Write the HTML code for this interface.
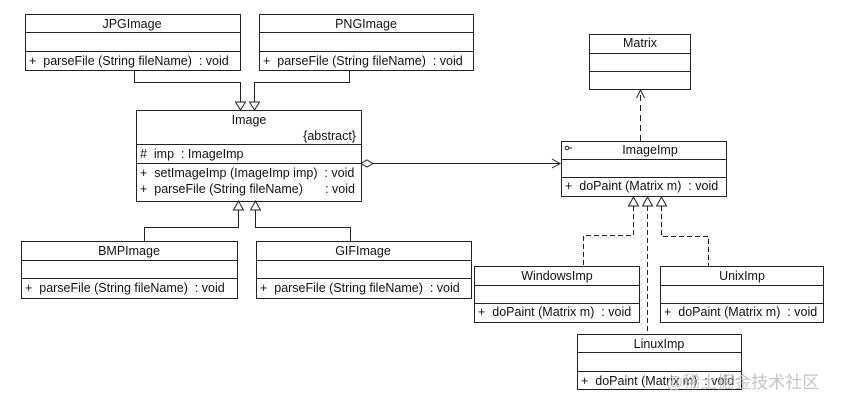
<!DOCTYPE html>
<html><head><meta charset="utf-8"><style>
html,body{margin:0;padding:0;background:#fff;}
svg{display:block;}
text{font-family:"Liberation Sans",Arial,sans-serif;font-size:12.5px;fill:#111;white-space:pre;}
</style></head><body>
<svg width="841" height="406" viewBox="0 0 841 406" xmlns="http://www.w3.org/2000/svg" xml:space="preserve">
<g fill="none" stroke="#222" stroke-width="1">
<rect x="25.5" y="14.5" width="215" height="56"/><line x1="25" y1="32.5" x2="240" y2="32.5"/><line x1="25" y1="51.5" x2="240" y2="51.5"/>
<rect x="259.5" y="14.5" width="214" height="56"/><line x1="259" y1="32.5" x2="473" y2="32.5"/><line x1="259" y1="51.5" x2="473" y2="51.5"/>
<rect x="136.5" y="110.5" width="225" height="91"/><line x1="136" y1="144.5" x2="361" y2="144.5"/><line x1="136" y1="163.5" x2="361" y2="163.5"/>
<rect x="21.5" y="241.5" width="216" height="57"/><line x1="21" y1="260.5" x2="237" y2="260.5"/><line x1="21" y1="278.5" x2="237" y2="278.5"/>
<rect x="256.5" y="241.5" width="215" height="57"/><line x1="256" y1="260.5" x2="471" y2="260.5"/><line x1="256" y1="278.5" x2="471" y2="278.5"/>
<rect x="589.5" y="34.5" width="101" height="55"/><line x1="589" y1="53.5" x2="690" y2="53.5"/><line x1="589" y1="71.5" x2="690" y2="71.5"/>
<rect x="561.5" y="141.5" width="165" height="55"/><line x1="561" y1="159.5" x2="726" y2="159.5"/><line x1="561" y1="177.5" x2="726" y2="177.5"/>
<rect x="474.5" y="266.5" width="165" height="56"/><line x1="474" y1="285.5" x2="639" y2="285.5"/><line x1="474" y1="303.5" x2="639" y2="303.5"/>
<rect x="660.5" y="266.5" width="163" height="56"/><line x1="660" y1="285.5" x2="823" y2="285.5"/><line x1="660" y1="303.5" x2="823" y2="303.5"/>
<rect x="577.5" y="334.5" width="164" height="55"/><line x1="577" y1="352.5" x2="741" y2="352.5"/><line x1="577" y1="371.5" x2="741" y2="371.5"/>
<polyline points="134.5,70 134.5,82.5 240.5,82.5 240.5,102"/>
<polygon points="235.5,102 245.5,102 240.5,110"/>
<polyline points="349.5,70 349.5,82.5 254.5,82.5 254.5,102"/>
<polygon points="249.5,102 259.5,102 254.5,110"/>
<polygon points="238.5,201 233.5,210 243.5,210"/>
<polyline points="238.5,210 238.5,227.5 144.5,227.5 144.5,241"/>
<polygon points="255.5,201 250.5,210 260.5,210"/>
<polyline points="255.5,210 255.5,227.5 350.5,227.5 350.5,241"/>
<polygon points="361,163.5 367,160 373,163.5 367,167"/>
<line x1="373" y1="163.5" x2="560" y2="163.5"/>
<polyline points="552,159 560,163.5 552,168"/>
<line x1="640.5" y1="141" x2="640.5" y2="90" stroke-dasharray="6,4"/>
<polyline points="636.5,98 640.5,90 644.5,98"/>
<polygon points="633.5,197 628.5,206 638.5,206"/>
<polygon points="647.5,197 642.5,206 652.5,206"/>
<polygon points="661.5,197 656.5,206 666.5,206"/>
<polyline points="633.5,206 633.5,235.5 583.5,235.5 583.5,266" stroke-dasharray="5,3"/>
<line x1="647.5" y1="206" x2="647.5" y2="334" stroke-dasharray="5,3"/>
<polyline points="661.5,206 661.5,236.5 708.5,236.5 708.5,266" stroke-dasharray="5,3"/>
<circle cx="567" cy="148" r="1.8"/><line x1="569" y1="148" x2="572" y2="148"/>
</g>
<g>
<text x="132" y="28" text-anchor="middle">JPGImage</text>
<text x="29" y="65">+  parseFile (String fileName)  : void</text>
<text x="366" y="28" text-anchor="middle">PNGImage</text>
<text x="263" y="65">+  parseFile (String fileName)  : void</text>
<text x="249" y="124" text-anchor="middle">Image</text>
<text x="356" y="140" text-anchor="end">{abstract}</text>
<text x="140" y="158">#  imp  : ImageImp</text>
<text x="140" y="177">+  setImageImp (ImageImp imp)  : void</text>
<text x="140" y="193">+  parseFile (String fileName)</text>
<text x="355" y="193" text-anchor="end">: void</text>
<text x="129" y="255" text-anchor="middle">BMPImage</text>
<text x="25" y="292">+  parseFile (String fileName)  : void</text>
<text x="363" y="255" text-anchor="middle">GIFImage</text>
<text x="260" y="292">+  parseFile (String fileName)  : void</text>
<text x="640" y="47" text-anchor="middle">Matrix</text>
<text x="650" y="154" text-anchor="middle">ImageImp</text>
<text x="565" y="190">+  doPaint (Matrix m)  : void</text>
<text x="557" y="280" text-anchor="middle">WindowsImp</text>
<text x="478" y="316">+  doPaint (Matrix m)  : void</text>
<text x="742" y="280" text-anchor="middle">UnixImp</text>
<text x="664" y="316">+  doPaint (Matrix m)  : void</text>
<text x="659" y="348" text-anchor="middle">LinuxImp</text>
<text x="581" y="385">+  doPaint (Matrix m)  : void</text>
<text x="666" y="388" style="font-family:'Liberation Sans','Noto Sans CJK SC',sans-serif;font-size:17px;fill:#bbb;opacity:0.85">@稀土掘金技术社区</text>
</g>
</svg>
</body></html>
